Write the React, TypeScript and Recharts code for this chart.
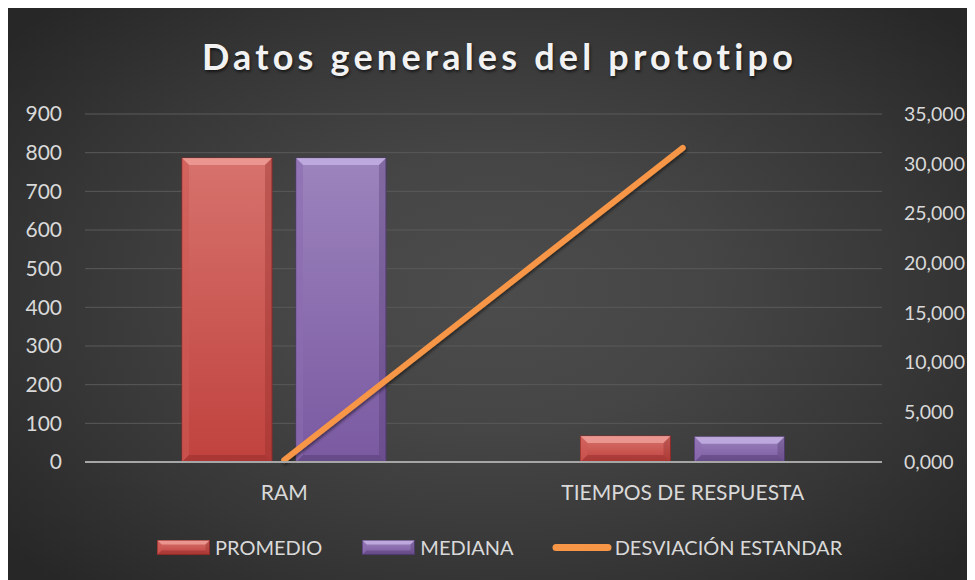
import React from "react";
import {
  ComposedChart,
  Bar,
  Line,
  XAxis,
  YAxis,
  CartesianGrid,
  Legend,
} from "recharts";

const categories = ["RAM", "TIEMPOS DE RESPUESTA"];
const promedio = [786, 67];
const mediana = [786, 65];
const desviacion = [0.2, 31.6];
const leftTicks = [0, 100, 200, 300, 400, 500, 600, 700, 800, 900];
const rightTicks = [0, 5, 10, 15, 20, 25, 30, 35];

const data = categories.map((c, i) => ({
  name: c,
  promedio: promedio[i],
  mediana: mediana[i],
  desviacion: desviacion[i],
}));

const FONT = "Lato, 'Open Sans', sans-serif";
const TICK_COLOR = "#d9d9d9";

const RED = { top: "#d7726c", bottom: "#c0423e", light: "#f0a09a", dark: "#8e2b28", side: "#cf5a55" };
const PURPLE = { top: "#9c84bd", bottom: "#7a59a1", light: "#c7b3e6", dark: "#4f3a6c", side: "#8c6db1" };

const BevelRect = ({ x, y, width, height, pal, gid, b0 = 7 }: any) => {
  if (!height || height <= 0) return null;
  const b = Math.min(b0, height / 2, width / 2);
  const x2 = x + width;
  const y2 = y + height;
  return (
    <g>
      <rect x={x} y={y} width={width} height={height} fill={`url(#${gid})`} stroke={pal.dark} strokeWidth={1} />
      <polygon points={`${x},${y} ${x2},${y} ${x2 - b},${y + b} ${x + b},${y + b}`} fill={pal.light} opacity={0.8} />
      <polygon points={`${x},${y} ${x + b},${y + b} ${x + b},${y2 - b} ${x},${y2}`} fill={pal.side} opacity={0.6} />
      <polygon points={`${x2},${y} ${x2},${y2} ${x2 - b},${y2 - b} ${x2 - b},${y + b}`} fill={pal.dark} opacity={0.35} />
      <polygon points={`${x},${y2} ${x + b},${y2 - b} ${x2 - b},${y2 - b} ${x2},${y2}`} fill={pal.dark} opacity={0.45} />
    </g>
  );
};

const RedBar = (p: any) => <BevelRect {...p} pal={RED} gid="gRed" />;
const PurpleBar = (p: any) => <BevelRect {...p} pal={PURPLE} gid="gPurple" />;

const LegendContent = () => {
  const item = (icon: React.ReactNode, label: string, mr: number, ml: number) => (
    <div style={{ display: "flex", alignItems: "center", marginRight: mr }}>
      {icon}
      <span style={{ marginLeft: ml, color: TICK_COLOR, fontSize: 20, fontFamily: FONT, lineHeight: "30px" }}>{label}</span>
    </div>
  );
  const barIcon = (pal: any, gid: string) => (
    <svg width={53} height={15} style={{ display: "block" }}>
      <BevelRect x={0.5} y={0.5} width={52} height={14} pal={pal} gid={gid} b0={4} />
    </svg>
  );
  return (
    <div style={{ display: "flex", alignItems: "center", height: 30, paddingLeft: 149 }}>
      {item(barIcon(RED, "gRedL"), "PROMEDIO", 40, 5)}
      {item(barIcon(PURPLE, "gPurpleL"), "MEDIANA", 38, 5)}
      {item(
        <svg width={60} height={15} style={{ display: "block" }}>
          <line x1={4} y1={7.5} x2={56} y2={7.5} stroke="#f79646" strokeWidth={7} strokeLinecap="round" />
        </svg>,
        "DESVIACIÓN ESTANDAR",
        0,
        3
      )}
    </div>
  );
};

const fmtRight = (v: number) => v.toFixed(3).replace(".", ",");

export default function App() {
  return (
    <div
      style={{
        position: "relative",
        width: 967,
        height: 572,
        fontFamily: FONT,
        background:
          "radial-gradient(ellipse 65% 70% at 50% 50%, #4c4c4c 0%, #454545 35%, #363636 70%, #272727 100%)",
        overflow: "hidden",
      }}
    >
      <svg width={0} height={0} style={{ position: "absolute" }}>
        <defs>
          <linearGradient id="gRedL" x1="0" y1="0" x2="0" y2="1">
            <stop offset="0%" stopColor={RED.top} />
            <stop offset="100%" stopColor={RED.bottom} />
          </linearGradient>
          <linearGradient id="gPurpleL" x1="0" y1="0" x2="0" y2="1">
            <stop offset="0%" stopColor={PURPLE.top} />
            <stop offset="100%" stopColor={PURPLE.bottom} />
          </linearGradient>
        </defs>
      </svg>
      <div
        style={{
          position: "absolute",
          top: 24,
          left: 8,
          width: 967,
          textAlign: "center",
          color: "#f2f2f2",
          fontFamily: FONT,
          fontWeight: 700,
          fontSize: 36,
          letterSpacing: 4.2,
          lineHeight: "48px",
          textShadow: "1px 2px 3px rgba(0,0,0,0.6)",
          zIndex: 2,
        }}
      >
        Datos generales del prototipo
      </div>
      <ComposedChart
        width={967}
        height={572}
        data={data}
        margin={{ top: 106, right: 0, left: 0, bottom: 48 }}
        barGap={24}
        style={{ position: "absolute", top: 0, left: 0 }}
      >
        <defs>
          <linearGradient id="gRed" x1="0" y1="0" x2="0" y2="1">
            <stop offset="0%" stopColor={RED.top} />
            <stop offset="100%" stopColor={RED.bottom} />
          </linearGradient>
          <linearGradient id="gPurple" x1="0" y1="0" x2="0" y2="1">
            <stop offset="0%" stopColor={PURPLE.top} />
            <stop offset="100%" stopColor={PURPLE.bottom} />
          </linearGradient>
          <filter id="lineShadow" x="-10%" y="-10%" width="120%" height="120%">
            <feDropShadow dx="1" dy="2" stdDeviation="1.5" floodColor="#000" floodOpacity="0.5" />
          </filter>
        </defs>
        <CartesianGrid yAxisId="left" vertical={false} stroke="#5a5a5a" strokeWidth={1} />
        <XAxis
          dataKey="name"
          height={40}
          tickSize={0}
          tickMargin={23}
          axisLine={{ stroke: "#a6a6a6", strokeWidth: 2 }}
          tickLine={false}
          tick={{ fill: TICK_COLOR, fontSize: 21, fontFamily: FONT }}
        />
        <YAxis
          yAxisId="left"
          orientation="left"
          width={77}
          domain={[0, 900]}
          ticks={leftTicks}
          interval={0}
          tickSize={0}
          tickMargin={23}
          axisLine={false}
          tickLine={false}
          tick={{ fill: TICK_COLOR, fontSize: 21, fontFamily: FONT }}
        />
        <YAxis
          yAxisId="right"
          orientation="right"
          width={93}
          domain={[0, 35]}
          ticks={rightTicks}
          interval={0}
          tickSize={0}
          tickMargin={22}
          axisLine={false}
          tickLine={false}
          tickFormatter={fmtRight}
          tick={{ fill: TICK_COLOR, fontSize: 19.5, fontFamily: FONT }}
        />
        <Legend
          verticalAlign="bottom"
          content={<LegendContent />}
          wrapperStyle={{ top: 524, left: 0, width: 967, height: 30, bottom: "auto" }}
        />
        <Bar yAxisId="left" dataKey="promedio" name="PROMEDIO" barSize={90} shape={<RedBar />} isAnimationActive={false} />
        <Bar yAxisId="left" dataKey="mediana" name="MEDIANA" barSize={90} shape={<PurpleBar />} isAnimationActive={false} />
        <Line
          yAxisId="right"
          type="linear"
          dataKey="desviacion"
          name="DESVIACIÓN ESTANDAR"
          stroke="#f79646"
          strokeWidth={6}
          strokeLinecap="round"
          dot={false}
          activeDot={false}
          filter="url(#lineShadow)"
          isAnimationActive={false}
        />
      </ComposedChart>
    </div>
  );
}
